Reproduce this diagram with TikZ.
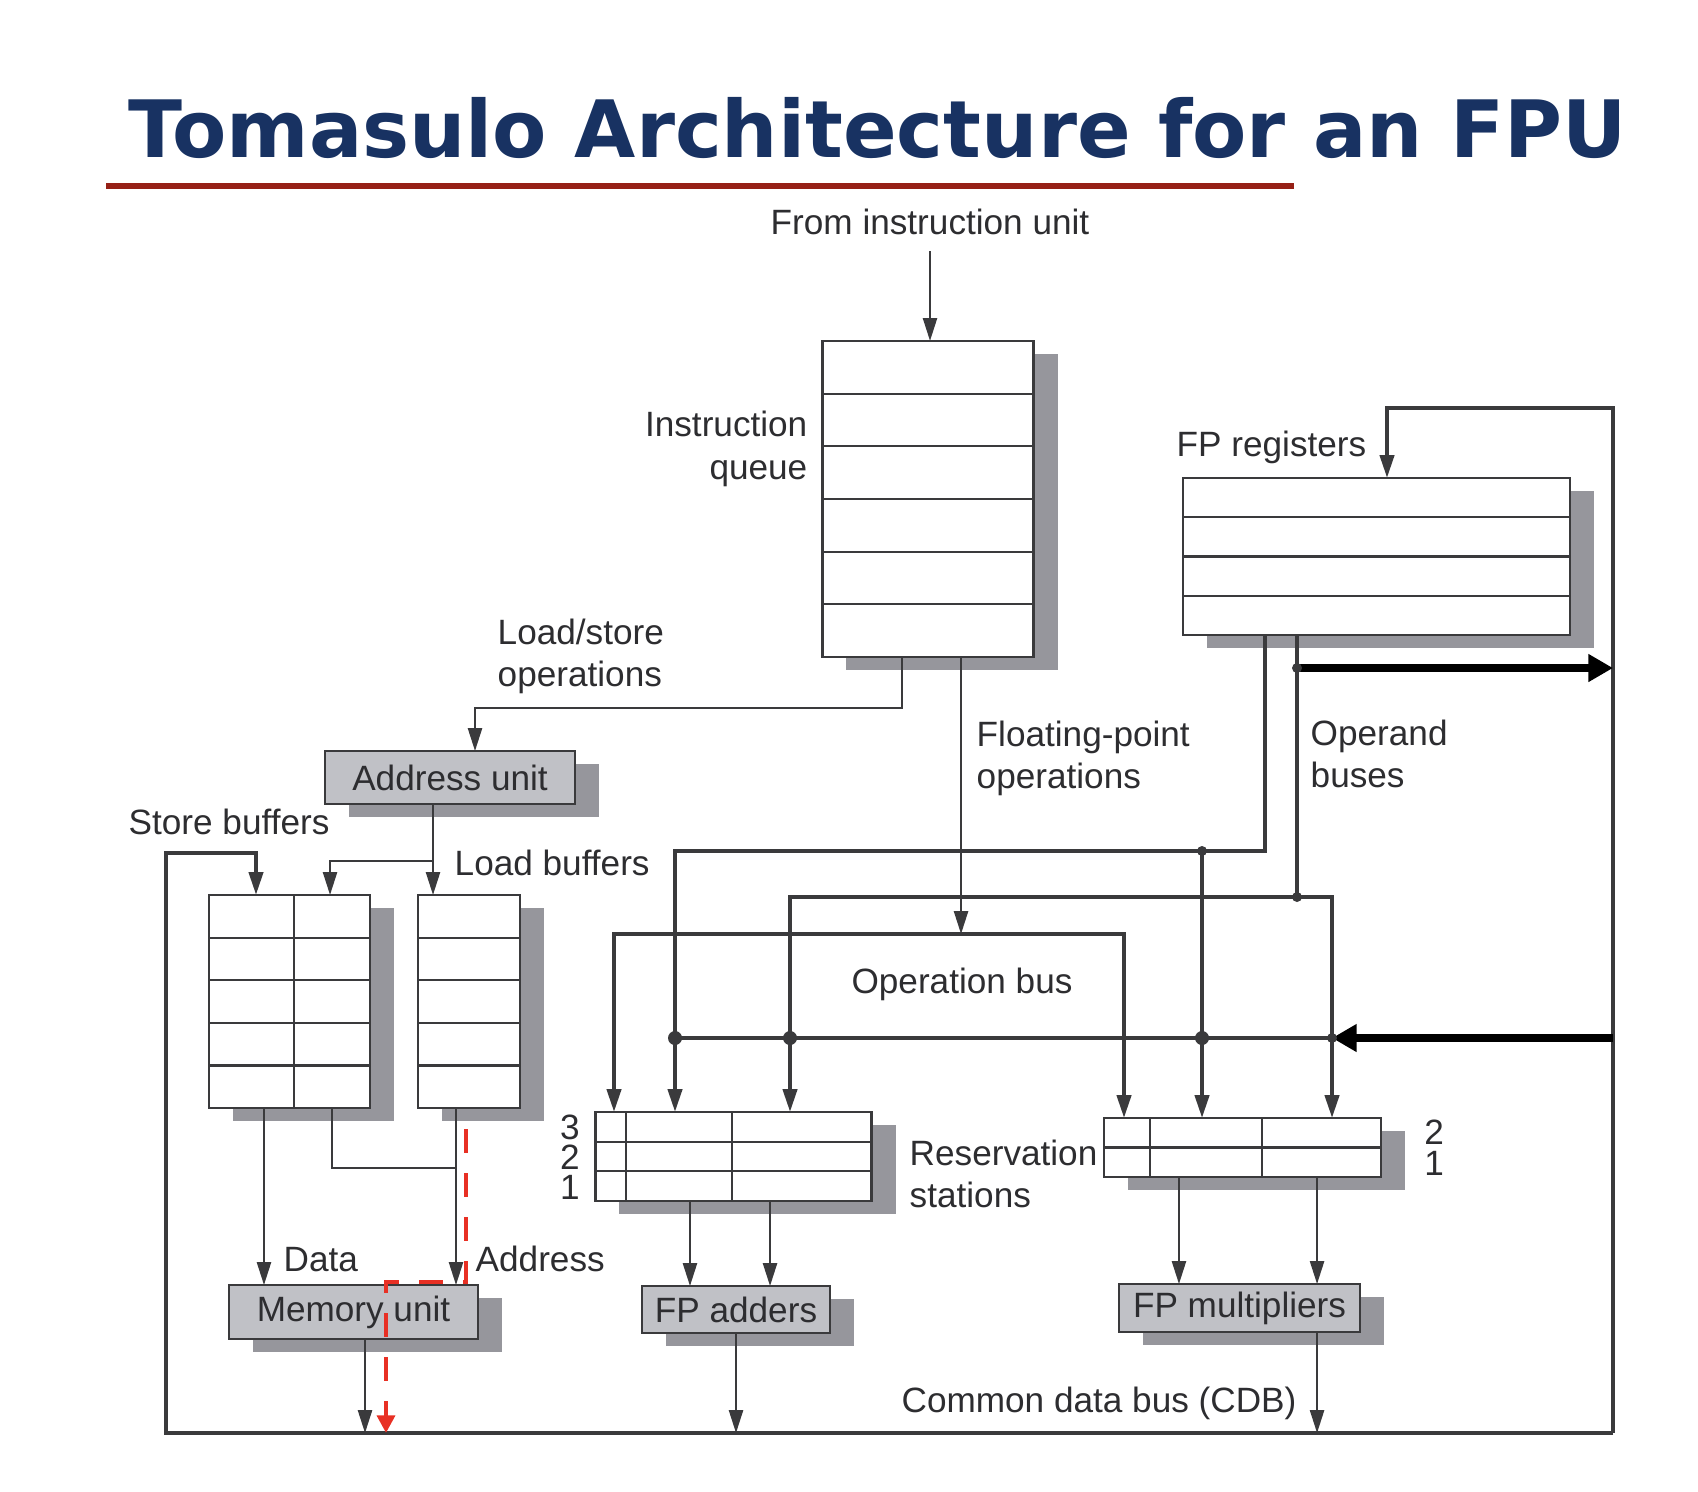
\documentclass[tikz,border=0pt]{standalone}
\usepackage{fontspec}
\setmainfont{Liberation Sans}
\newfontfamily\titlefont{DejaVu Sans}
\usepackage{tikz}
\usetikzlibrary{arrows.meta}
\usetikzlibrary{calc}
\usetikzlibrary{shadows}
\usepackage{xcolor}
\definecolor{titleblue}{RGB}{24,50,98}
\definecolor{titlered}{RGB}{150,32,22}
\definecolor{linegray}{RGB}{58,58,60}
\definecolor{textgray}{RGB}{45,45,48}
\definecolor{unitgray}{RGB}{192,193,198}
\definecolor{shadowgray}{RGB}{150,150,156}
\definecolor{dashred}{RGB}{232,48,36}

\tikzset{
	box/.style={draw=linegray,line width=0.65pt,fill=white,inner sep=0pt,outer sep=0pt,
		drop shadow={shadow xshift=0.24cm,shadow yshift=-0.13cm,fill=shadowgray,opacity=1}},
	unit/.style={box,fill=unitgray,text=textgray},
	lbl/.style={inner sep=0pt,text=textgray},
	cell/.style={draw=linegray,line width=0.6pt},
	ln/.style={draw=linegray,line width=0.6pt},
	arr/.style={ln,-{Triangle[length=6.5pt,width=4pt]}},
	bus/.style={draw=linegray,line width=1.1pt},
	busarr/.style={bus,-{Triangle[length=6.5pt,width=4pt]}},
	busboth/.style={bus,{Triangle[length=6.5pt,width=4pt]}-{Triangle[length=6.5pt,width=4pt]}},
	fat/.style={draw=black,line width=2.3pt,-{Triangle[length=7pt,width=7.5pt]}},
	reddash/.style={draw=dashred,line width=1.4pt,dash pattern=on 0.24cm off 0.2cm,-{Triangle[length=5pt,width=5pt]}}
}

\begin{document}
\begin{tikzpicture}[x=0.01cm,y=-0.01cm,font=\fontsize{10pt}{12pt}\selectfont]
			\fill[white] (0,0) rectangle (1698,1491);
			\useasboundingbox (0,0) rectangle (1698,1491);
			
			\node(title) at (128,157)[anchor=base west,inner sep=0pt,text=titleblue,font=\titlefont\bfseries\fontsize{22.5pt}{27pt}\selectfont]{Tomasulo Architecture for an FPU};
			\draw[titlered,line width=0.06cm] (106,186) -- (1294,186);
			
			\node(iq) at (928,499)[box,minimum width=2.11cm,minimum height=3.16cm]{};
			\node(fpreg) at (1376.5,556.5)[box,minimum width=3.87cm,minimum height=1.57cm]{};
			\node(addr) at (450,777.5)[unit,minimum width=2.5cm,minimum height=0.53cm]{Address unit};
			\node(sb) at (289.5,1001.5)[box,minimum width=1.61cm,minimum height=2.13cm]{};
			\node(lb) at (469,1001.5)[box,minimum width=1.02cm,minimum height=2.13cm]{};
			\node(mem) at (353.5,1312)[unit,minimum width=2.49cm,minimum height=0.54cm]{Memory unit};
			\node(rsadd) at (733.5,1156.5)[box,minimum width=2.76cm,minimum height=0.89cm]{};
			\node(rsmul) at (1242.5,1147.5)[box,minimum width=2.77cm,minimum height=0.59cm]{};
			\node(fpadd) at (736,1309.5)[unit,minimum width=1.88cm,minimum height=0.47cm]{FP adders};
			\node(fpmul) at (1239.5,1308)[unit,minimum width=2.41cm,minimum height=0.48cm]{FP multipliers};
			
			\foreach \k in {1,...,5}
				\draw[cell] ($(iq.north west)!\k/6!(iq.south west)$) -- ($(iq.north east)!\k/6!(iq.south east)$);
			\foreach \k in {1,2,3}
				\draw[cell] ($(fpreg.north west)!\k/4!(fpreg.south west)$) -- ($(fpreg.north east)!\k/4!(fpreg.south east)$);
			\foreach \b in {sb,lb}
				\foreach \k in {1,...,4}
					\draw[cell] ($(\b.north west)!\k/5!(\b.south west)$) -- ($(\b.north east)!\k/5!(\b.south east)$);
			\draw[cell] ($(sb.north west)!0.528!(sb.north east)$) -- ($(sb.south west)!0.528!(sb.south east)$);
			\foreach \k in {1,2}
				\draw[cell] ($(rsadd.north west)!\k/3!(rsadd.south west)$) -- ($(rsadd.north east)!\k/3!(rsadd.south east)$);
			\foreach \f in {0.112,0.493}
				\draw[cell] ($(rsadd.north west)!\f!(rsadd.north east)$) -- ($(rsadd.south west)!\f!(rsadd.south east)$);
			\draw[cell] (rsmul.west) -- (rsmul.east);
			\foreach \f in {0.166,0.570}
				\draw[cell] ($(rsmul.north west)!\f!(rsmul.north east)$) -- ($(rsmul.south west)!\f!(rsmul.south east)$);
			
			\node(fromiu) at (930,235)[lbl,anchor=base]{From instruction unit};
			\node(iqlbl) at (808,449)[lbl,anchor=east,align=right]{Instruction\\queue};
			\node(lslbl) at (497,656)[lbl,anchor=west,align=left]{Load/store\\operations};
			\node(fplbl) at (976,758)[lbl,anchor=west,align=left]{Floating-point\\operations};
			\node(oblbl) at (1310,754)[lbl,anchor=west,align=left]{Operand\\buses};
			\node(fpreglbl) at (1176,456)[lbl,anchor=base west]{FP registers};
			\node(sblbl) at (128,834)[lbl,anchor=base west]{Store buffers};
			\node(lblbl) at (454,875)[lbl,anchor=base west]{Load buffers};
			\node(oplbl) at (962,993)[lbl,anchor=base]{Operation bus};
			\node(rslbl) at (909,1174)[lbl,anchor=west,align=left]{Reservation\\stations};
			\node(addnum) at (570,1157)[lbl,align=center,font=\fontsize{10pt}{8.5pt}\selectfont]{3\\2\\1};
			\node(mulnum) at (1434,1147.5)[lbl,align=center,font=\fontsize{10pt}{8.7pt}\selectfont]{2\\1};
			\node(datalbl) at (283,1271)[lbl,anchor=base west]{Data};
			\node(addrlbl) at (475,1271)[lbl,anchor=base west]{Address};
			\node(cdblbl) at (1099,1412)[lbl,anchor=base]{Common data bus (CDB)};
			
			\coordinate(lsbend) at (475,708);
			\coordinate(ab) at (433,861);
			\coordinate(sbfeed) at (256,853);
			\coordinate(cdbL) at (166,1433);
			\coordinate(cdbR) at (1613,1433);
			\coordinate(regfeed) at (1387,408);
			\coordinate(lbjoin) at (456,1168);
			\coordinate(r1) at (466,1129);
			\coordinate(r2) at (386,1282);
			\coordinate(obL) at (614,934);
			\coordinate(obR) at (1124,934);
			\coordinate(opA) at (675,851);
			\coordinate(opB) at (790,897);
			\coordinate(opBR) at (1332,897);
			\coordinate(jA) at (1202,851);
			\coordinate(jB) at (1297,897);
			\coordinate(fatA) at (1297,668);
			\coordinate(busL) at (675,1038);
			\coordinate(busR) at (1332,1038);
			\coordinate(busB) at (opB |- busL);
			\coordinate(busJ) at (jA |- busL);
			
			\draw[arr,shorten <=0.15cm] (fromiu.south) -- (fromiu.south |- iq.north);
			\draw[arr] ([xshift=-0.26cm]iq.south) |- (lsbend) -- (lsbend |- addr.north);
			\draw[arr] ([xshift=0.33cm]iq.south) -- ([xshift=0.33cm]iq.south |- obL);
			\draw[arr] (ab |- addr.south) -- (ab |- lb.north);
			\draw[arr] (ab) -| ([xshift=0.405cm]sb.north);
			\draw[arr] ([xshift=-0.255cm]sb.south) -- ([xshift=-0.255cm]sb.south |- mem.north);
			\draw[ln] ([xshift=0.425cm]sb.south) |- (lbjoin);
			\draw[arr] ([xshift=-0.13cm]lb.south) -- ([xshift=-0.13cm]lb.south |- mem.north);
			\draw[arr] ([xshift=0.115cm]mem.south) -- ([xshift=0.115cm]mem.south |- cdbL);
			\draw[arr] ([xshift=-0.435cm]rsadd.south) -- ([xshift=-0.435cm]rsadd.south |- fpadd.north);
			\draw[arr] ([xshift=0.365cm]rsadd.south) -- ([xshift=0.365cm]rsadd.south |- fpadd.north);
			\draw[arr] ([xshift=-0.635cm]rsmul.south) -- ([xshift=-0.635cm]rsmul.south |- fpmul.north);
			\draw[arr] ([xshift=0.745cm]rsmul.south) -- ([xshift=0.745cm]rsmul.south |- fpmul.north);
			\draw[arr] (fpadd.south) -- (fpadd.south |- cdbL);
			\draw[arr] ([xshift=0.775cm]fpmul.south) -- ([xshift=0.775cm]fpmul.south |- cdbL);
			
			\draw[busarr] (cdbR) -- (cdbL) |- (sbfeed) -- (sbfeed |- sb.north);
			\draw[busarr] (cdbR) |- (regfeed) -- (regfeed |- fpreg.north);
			\draw[busboth] (obL |- rsadd.north) -- (obL) -- (obR) -- (obR |- rsmul.north);
			\draw[busarr] ([xshift=-1.115cm]fpreg.south) |- (opA) -- (opA |- rsadd.north);
			\draw[busarr] (jA) -- (jA |- rsmul.north);
			\draw[bus] ([xshift=-0.795cm]fpreg.south) -- (jB);
			\draw[busboth] (opB |- rsadd.north) -- (opB) -- (opBR) -- (opBR |- rsmul.north);
			\draw[bus] (busL) -- (busR);
			\draw[fat] (cdbR |- busR) -- (busR);
			\draw[fat] (fatA) -- (fatA -| cdbR);
			\foreach \p in {jA,jB,fatA,busR}
				\fill[linegray] (\p) circle (0.05cm);
			\foreach \p in {busL,busB,busJ}
				\fill[linegray] (\p) circle (0.07cm);
			
			\draw[reddash] (r1) |- (r2) -- (r2 |- cdbL);
		\end{tikzpicture}
\end{document}
